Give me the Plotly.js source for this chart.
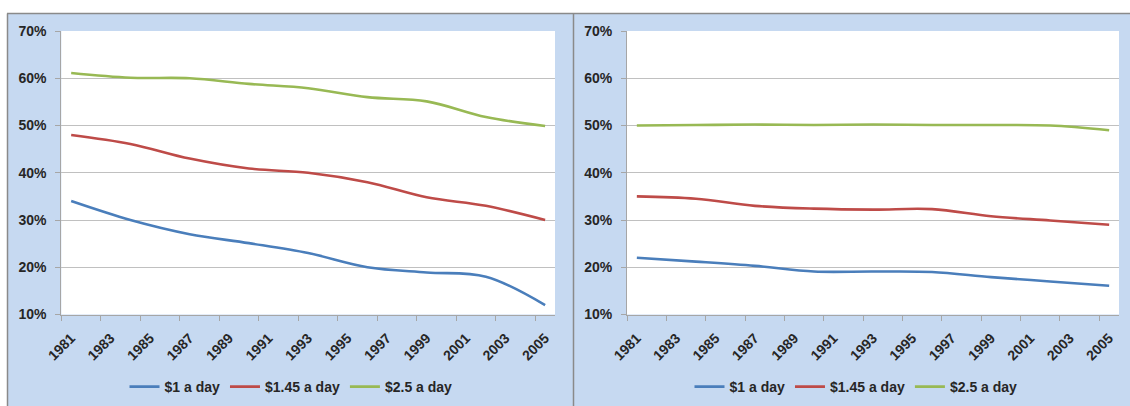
<!DOCTYPE html>
<html><head><meta charset="utf-8">
<script src="https://cdn.plot.ly/plotly-3.0.1.min.js"></script>
<style>html,body{margin:0;padding:0;background:#fff;}#chart{width:1130px;height:406px;}</style>
</head><body><div id="chart"></div>
<script>
// ---- data ----
const categories = ['1981','1982','1983','1984','1985','1986','1987','1988','1989','1990','1991','1992','1993',
  '1994','1995','1996','1997','1998','1999','2000','2001','2002','2003','2004','2005'];
const sampleYears = ['1981','1984','1987','1990','1993','1996','1999','2002','2005'];
const seriesNames = ['$1 a day', '$1.45 a day', '$2.5 a day'];
const seriesColors = ['#4a7ebb', '#be4b48', '#98b954'];
const leftOne = [34, 30, 27, 25.1, 23, 20, 18.9, 18, 12];
const leftOneFortyFive = [48, 46.1, 43, 40.9, 40, 38, 34.8, 33, 30];
const leftTwoFive = [61.1, 60.1, 60, 58.8, 57.9, 56, 55.1, 51.8, 49.9];
const rightOne = [22, 21.2, 20.3, 19.1, 19.1, 19, 17.9, 17, 16.1];
const rightOneFortyFive = [35, 34.5, 33, 32.4, 32.2, 32.3, 30.8, 29.9, 29];
const rightTwoFive = [50, 50.1, 50.2, 50.1, 50.2, 50.1, 50.1, 50, 49];
const yTickValues = [10, 20, 30, 40, 50, 60, 70];
const yTickLabels = ['10%', '20%', '30%', '40%', '50%', '60%', '70%'];

// ---- helpers ----
const W = 1130, H = 406;
const px = v => v / W;
const py = v => 1 - v / H;
function onCategories(vals) {
  return categories.map(c => {
    const i = sampleYears.indexOf(c);
    return i >= 0 ? vals[i] : null;
  });
}
const font = {family: 'Liberation Sans, Arial, sans-serif', size: 14, color: '#262626', weight: 'bold'};

function makeTraces(sets, xa, ya, leg) {
  return sets.map((vals, k) => ({
    type: 'scatter', mode: 'lines',
    x: categories, y: onCategories(vals),
    connectgaps: true,
    name: seriesNames[k],
    line: {color: seriesColors[k], width: 2.6, shape: 'spline', smoothing: 1},
    xaxis: xa, yaxis: ya, legend: leg, hoverinfo: 'skip'
  }));
}
const data = [].concat(
  makeTraces([leftOne, leftOneFortyFive, leftTwoFive], 'x', 'y', 'legend'),
  makeTraces([rightOne, rightOneFortyFive, rightTwoFive], 'x2', 'y2', 'legend2')
);

const axisLine = '#a6a6a6';
function xAxis(dom, anchor) {
  return {
    domain: dom, anchor: anchor, type: 'category',
    categoryorder: 'array', categoryarray: categories,
    range: [-0.5, 24.5], tickmode: 'linear', tick0: 0, dtick: 2,
    tickson: 'boundaries', ticks: 'outside', ticklen: 5, tickcolor: axisLine,
    tickangle: -45, showline: true, linecolor: axisLine, linewidth: 1,
    showgrid: false, zeroline: false, tickfont: font, ticklabelstandoff: 9, fixedrange: true
  };
}
function yAxis(dom, anchor) {
  return {
    domain: dom, anchor: anchor, range: [10, 70],
    tickmode: 'array', tickvals: yTickValues, ticktext: yTickLabels,
    ticks: 'outside', ticklen: 5, tickcolor: axisLine,
    showline: true, linecolor: axisLine, linewidth: 1,
    showgrid: true, gridcolor: '#c0c0c0', gridwidth: 1,
    zeroline: false, tickfont: font, ticklabelstandoff: 6, fixedrange: true
  };
}
const yDom = [py(314.5), py(31)];
const panelBlue = '#c6d9f1';
const borderGray = '#8a8a8a';
const layout = {
  width: W, height: H,
  margin: {l: 0, r: 0, t: 0, b: 0},
  paper_bgcolor: '#ffffff', plot_bgcolor: '#ffffff',
  showlegend: true,
  xaxis: xAxis([px(61.3), px(555)], 'y'),
  yaxis: yAxis(yDom, 'x'),
  xaxis2: xAxis([px(627), px(1119)], 'y2'),
  yaxis2: yAxis(yDom, 'x2'),
  legend: {orientation: 'h', x: px(291), xanchor: 'center', y: py(387), yanchor: 'middle',
    bgcolor: 'rgba(0,0,0,0)', font: font, itemclick: false, itemdoubleclick: false},
  legend2: {orientation: 'h', x: px(856), xanchor: 'center', y: py(387), yanchor: 'middle',
    bgcolor: 'rgba(0,0,0,0)', font: font, itemclick: false, itemdoubleclick: false},
  shapes: [
    {type: 'rect', xref: 'paper', yref: 'paper', x0: px(8), x1: px(573), y0: py(406), y1: py(14),
      fillcolor: panelBlue, line: {width: 0}, layer: 'below'},
    {type: 'rect', xref: 'paper', yref: 'paper', x0: px(574), x1: px(1130), y0: py(406), y1: py(14),
      fillcolor: panelBlue, line: {width: 0}, layer: 'below'},
    {type: 'rect', xref: 'x domain', yref: 'y domain', x0: 0, x1: 1, y0: 0, y1: 1,
      fillcolor: '#ffffff', line: {width: 0}, layer: 'below'},
    {type: 'rect', xref: 'x2 domain', yref: 'y2 domain', x0: 0, x1: 1, y0: 0, y1: 1,
      fillcolor: '#ffffff', line: {width: 0}, layer: 'below'},
    {type: 'line', xref: 'paper', yref: 'paper', x0: px(7), x1: 1, y0: py(13.5), y1: py(13.5),
      line: {color: borderGray, width: 1.5}},
    {type: 'line', xref: 'paper', yref: 'paper', x0: px(7.5), x1: px(7.5), y0: 0, y1: py(13.5),
      line: {color: borderGray, width: 1.5}},
    {type: 'line', xref: 'paper', yref: 'paper', x0: px(573.5), x1: px(573.5), y0: 0, y1: py(13.5),
      line: {color: borderGray, width: 1.5}}
  ]
};
Plotly.newPlot('chart', data, layout, {staticPlot: true, displayModeBar: false});
</script></body></html>
